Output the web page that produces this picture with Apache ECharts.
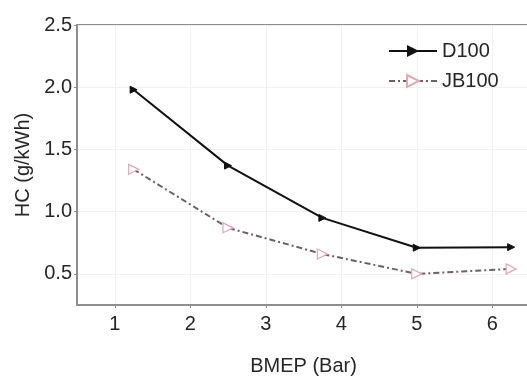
<!DOCTYPE html>
<html>
<head>
<meta charset="utf-8">
<script src="https://cdn.jsdelivr.net/npm/echarts@6/dist/echarts.min.js"></script>
<style>
  html, body {margin: 0; padding: 0; background: #fff; overflow: hidden;}
  #chart {width: 534px; height: 381px;}
</style>
</head>
<body>
<div id="chart"></div>
<script>
const bmep = [1.25, 2.5, 3.75, 5, 6.25];
const d100 = [1.98, 1.37, 0.95, 0.71, 0.715];
const jb100 = [1.34, 0.87, 0.66, 0.5, 0.54];
const xTicks = [1, 2, 3, 4, 5, 6];
const yTicks = [0.5, 1.0, 1.5, 2.0, 2.5];

const font = 'Liberation Sans, Arial, sans-serif';
const axisGray = '#8e8e8e';
const textColor = '#262626';
const tri = 'path://M0,0 L10,5 L0,10 Z';

const pair = ys => bmep.map((x, i) => [x, ys[i]]);

// the chart div is a little wider than the window so the frame's right side is cut off
const myChart = echarts.init(document.getElementById('chart'));
myChart.setOption({
  animation: false,
  textStyle: {fontFamily: font, color: textColor},
  grid: {
    left: 77, top: 25, right: 4, bottom: 74,
    show: true, borderColor: axisGray, borderWidth: 2
  },
  legend: {
    orient: 'vertical',
    left: 383, top: 36,
    itemWidth: 48, itemHeight: 15,
    itemGap: 10,
    textStyle: {fontSize: 20, color: textColor, fontFamily: font},
    data: ['D100', 'JB100']
  },
  xAxis: {
    type: 'value',
    min: 0.5, max: 6.5,
    name: 'BMEP (Bar)',
    nameLocation: 'middle',
    nameGap: 51,
    nameTextStyle: {fontSize: 20, color: textColor},
    axisLine: {lineStyle: {color: axisGray, width: 2}},
    axisTick: {show: true, length: 3, customValues: xTicks, lineStyle: {color: axisGray}},
    axisLabel: {customValues: xTicks, fontSize: 20, color: textColor, margin: 9},
    splitLine: {show: true, lineStyle: {color: '#f1f1f1', width: 1}}
  },
  yAxis: {
    type: 'value',
    min: 0.25, max: 2.5,
    name: 'HC (g/kWh)',
    nameLocation: 'middle',
    nameGap: 42,
    nameTextStyle: {fontSize: 20, color: textColor},
    axisLine: {show: true, lineStyle: {color: axisGray, width: 2}},
    axisTick: {show: true, length: 3, customValues: yTicks, lineStyle: {color: axisGray}},
    axisLabel: {
      customValues: yTicks, fontSize: 20, color: textColor, margin: 5,
      formatter: v => v.toFixed(1)
    },
    splitLine: {show: true, lineStyle: {color: '#f1f1f1', width: 1}}
  },
  series: [
    {
      name: 'D100',
      type: 'line',
      data: pair(d100),
      symbol: tri,
      symbolSize: 7,
      showAllSymbol: true,
      itemStyle: {color: '#111', borderColor: '#111'},
      lineStyle: {color: '#111', width: 2}
    },
    {
      name: 'JB100',
      type: 'line',
      data: pair(jb100),
      symbol: tri,
      symbolSize: 10,
      itemStyle: {color: '#fff', borderColor: '#e2a9b8', borderWidth: 1.2},
      lineStyle: {color: '#6e5f66', width: 2, type: [6, 3, 2, 3]}
    }
  ]
});
</script>
</body>
</html>
